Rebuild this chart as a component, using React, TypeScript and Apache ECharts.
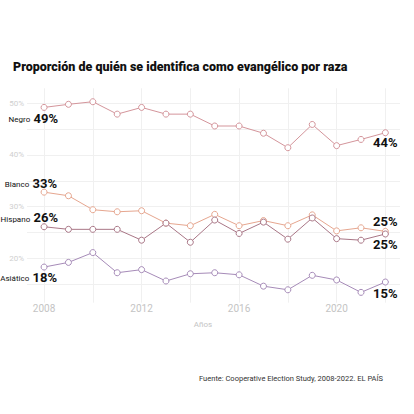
import React, { useEffect, useRef } from "react";
import * as echarts from "echarts";

const years = [2008, 2009, 2010, 2011, 2012, 2013, 2014, 2015, 2016, 2017, 2018, 2019, 2020, 2021, 2022];
const negro = [49.2, 49.8, 50.3, 47.9, 49.2, 47.9, 47.9, 45.6, 45.6, 44.2, 41.4, 45.9, 41.8, 43.0, 44.3];
const blanco = [32.8, 32.1, 29.4, 29.0, 29.2, 26.8, 26.3, 28.5, 26.3, 27.3, 26.3, 28.4, 25.3, 25.9, 25.2];
const hispano = [26.1, 25.6, 25.6, 25.6, 23.5, 26.8, 23.1, 27.4, 24.8, 27.0, 23.7, 27.8, 23.8, 23.5, 24.7];
const asiatico = [18.3, 19.2, 21.1, 17.2, 17.8, 15.6, 17.0, 17.2, 16.8, 14.6, 13.9, 16.7, 15.8, 13.4, 15.4];

const yGridValues = [15, 20, 25, 30, 35, 40, 45, 50];
const yLabelValues = [20, 30, 40, 50];
const xGridValues = [2008, 2010, 2012, 2014, 2016, 2018, 2020, 2022];
const xLabelValues = [2008, 2012, 2016, 2020];

const title = "Proporción de quién se identifica como evangélico por raza";
const source = "Fuente: Cooperative Election Study, 2008-2022. EL PAÍS";
const xName = "Años";

const FONT = "Roboto, 'Liberation Sans', sans-serif";

const seriesDefs = [
  { name: "Negro", values: negro, color: "#d4959b", start: [14, 11], end: [0, 10] },
  { name: "Blanco", values: blanco, color: "#e6a68f", start: [13, -9], end: [0, -10] },
  { name: "Hispano", values: hispano, color: "#a97686", start: [14, -9], end: [0, 11] },
  { name: "Asiático", values: asiatico, color: "#a68bb8", start: [13, 10], end: [0, 11] },
];

const rich = {
  n: { fontSize: 8, color: "#111", fontFamily: FONT, padding: [3, 0, 0, 0] },
  v: { fontSize: 13, fontWeight: "bold", color: "#111", fontFamily: FONT },
};

export default function App() {
  const ref = useRef<HTMLDivElement>(null);
  useEffect(() => {
    if (!ref.current) return;
    const chart = echarts.init(ref.current, undefined, { renderer: "svg" });
    const series = seriesDefs.map((s) => ({
      type: "line",
      name: s.name,
      symbol: "circle",
      symbolSize: 6,
      lineStyle: { color: s.color, width: 1 },
      itemStyle: { color: "#fff", borderColor: s.color, borderWidth: 1 },
      emphasis: { disabled: true },
      label: { show: false },
      data: years.map((y, i) => {
        const v = s.values[i];
        const item: any = { value: [y, v] };
        if (i === 0) {
          item.label = {
            show: true,
            position: "inside",
            align: "right",
            verticalAlign: "middle",
            offset: s.start,
            formatter: `{n|${s.name}} {v|${Math.round(v)}%}`,
            rich,
          };
        } else if (i === years.length - 1) {
          item.label = {
            show: true,
            position: "inside",
            align: "center",
            verticalAlign: "middle",
            offset: s.end,
            formatter: `{v|${Math.round(v)}%}`,
            rich,
          };
        }
        return item;
      }),
    }));
    chart.setOption({
      animation: false,
      backgroundColor: "#fff",
      title: {
        text: title,
        left: 8,
        top: 55,
        textStyle: { fontFamily: FONT, fontSize: 12.5, fontWeight: 900, color: "#111" },
      },
      graphic: [
        {
          type: "text",
          right: 31,
          top: 374,
          style: { text: source, fontFamily: FONT, fontSize: 7.5, fill: "#333" },
        },
      ],
      grid: { left: 27, right: 14, top: 88.3, bottom: 111.3, containLabel: false },
      xAxis: {
        type: "value",
        min: 2007.3,
        max: 2022.6,
        name: xName,
        nameLocation: "middle",
        nameGap: 18,
        nameTextStyle: { fontFamily: FONT, fontSize: 8, color: "#c4c4c4", padding: [0, 21, 0, 0] },
        axisLine: { show: false },
        axisTick: { show: false, customValues: xGridValues },
        axisLabel: {
          customValues: xLabelValues,
          fontFamily: FONT,
          fontSize: 10,
          color: "#c4c4c4",
          margin: 1,
          formatter: (v: number) => String(v),
        },
        splitLine: { show: true, lineStyle: { color: "#f0f0f0", width: 1 } },
      },
      yAxis: {
        type: "value",
        min: 11.4,
        max: 52.9,
        axisLine: { show: false },
        axisTick: { show: false, customValues: yGridValues },
        axisLabel: {
          customValues: yLabelValues,
          fontFamily: FONT,
          fontSize: 8,
          color: "#cfcfcf",
          margin: 3,
          formatter: "{value}%",
        },
        splitLine: { show: true, lineStyle: { color: "#f0f0f0", width: 1 } },
      },
      series,
    });
    return () => chart.dispose();
  }, []);
  return (
    <div
      ref={ref}
      style={{ position: "absolute", left: 0, top: 0, width: 414, height: 414, background: "#fff" }}
    />
  );
}
